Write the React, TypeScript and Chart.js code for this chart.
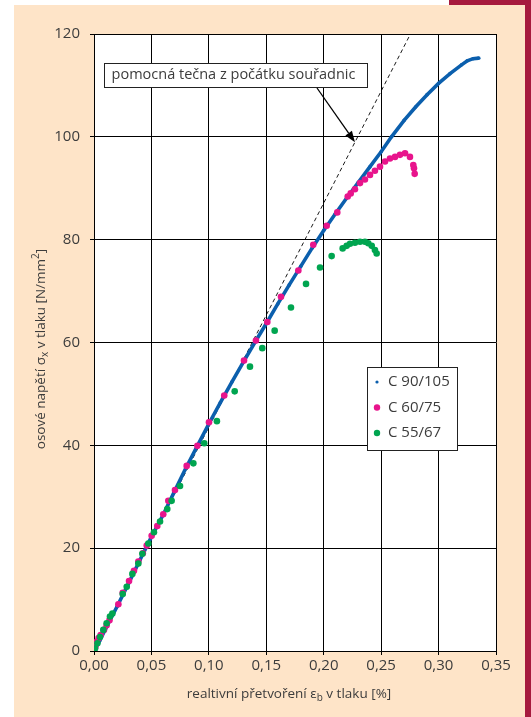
import React, { useEffect, useRef } from "react";
import { Chart, registerables } from "chart.js";

Chart.register(...registerables);

// ---------- data ----------
const seriesNames = ["C 90/105", "C 60/75", "C 55/67"];
const seriesColors = ["#0b5fad", "#e8148c", "#00a550"];

// C 90/105 (x = strain %, y = stress N/mm2)
const c90x = [0, 0.005, 0.01, 0.02, 0.03, 0.04, 0.05, 0.06, 0.07, 0.08, 0.09, 0.10, 0.11, 0.12, 0.13, 0.14, 0.15, 0.16, 0.17, 0.18, 0.19, 0.20, 0.21, 0.22, 0.23, 0.24, 0.25, 0.259, 0.27, 0.28, 0.29, 0.30, 0.31, 0.32, 0.325, 0.33, 0.335];
const c90y = [0, 2.0, 4.3, 8.6, 13.1, 17.7, 22.2, 26.4, 31.0, 35.6, 39.9, 44.2, 48.3, 52.3, 56.2, 60.0, 63.7, 67.5, 71.2, 74.8, 78.4, 81.8, 85.0, 88.1, 91.1, 94.1, 97.1, 100.0, 103.2, 105.8, 108.2, 110.4, 112.3, 114.0, 114.8, 115.2, 115.3];

// C 60/75
const c60x = [0, 0.0012, 0.0023, 0.004, 0.0058, 0.0087, 0.011, 0.0135, 0.0212, 0.025, 0.0305, 0.0348, 0.0386, 0.0425, 0.0459, 0.0502, 0.0551, 0.0603, 0.0647, 0.0705, 0.0807, 0.09, 0.1001, 0.1134, 0.1306, 0.141, 0.1509, 0.1628, 0.1779, 0.1909, 0.2026, 0.2118, 0.2209, 0.2235, 0.2272, 0.2316, 0.2359, 0.2403, 0.2446, 0.249, 0.2534, 0.2577, 0.2621, 0.2664, 0.2708, 0.2751, 0.278, 0.2786, 0.2792];
const c60y = [0, 0.8, 1.8, 2.5, 3.1, 4.1, 5.0, 6.0, 9.1, 11.3, 13.6, 15.6, 17.4, 19.0, 20.5, 22.4, 24.3, 26.6, 29.2, 31.3, 36.0, 39.9, 44.5, 49.7, 56.5, 60.4, 64.0, 68.9, 74.0, 79.0, 82.7, 85.3, 88.4, 89.0, 89.8, 91.0, 91.7, 92.6, 93.4, 94.2, 95.2, 95.8, 96.1, 96.5, 96.8, 96.1, 94.5, 93.9, 92.8];

// C 55/67
const c55x = [0, 0.0009, 0.003, 0.0052, 0.0081, 0.011, 0.0139, 0.016, 0.025, 0.0285, 0.0334, 0.0386, 0.0421, 0.0473, 0.0522, 0.0575, 0.0638, 0.0676, 0.0749, 0.0865, 0.096, 0.107, 0.1225, 0.1358, 0.1465, 0.1573, 0.1715, 0.1846, 0.1968, 0.2069, 0.2165, 0.22, 0.2229, 0.2272, 0.2316, 0.2359, 0.2388, 0.2418, 0.2446, 0.2461];
const c55y = [0, 0.5, 1.5, 2.7, 4.1, 5.4, 6.7, 7.3, 11.1, 12.5, 15.0, 17.0, 18.9, 20.9, 23.1, 25.2, 27.6, 29.2, 32.1, 36.5, 40.4, 44.7, 50.5, 55.3, 58.9, 62.3, 66.8, 71.4, 74.6, 76.8, 78.3, 78.8, 79.2, 79.4, 79.6, 79.6, 79.3, 78.8, 78.0, 77.3];

// auxiliary tangent from origin
const tangentX = [0, 0.2755];
const tangentY = [0, 120];
const tangentArrowX = 0.2272; // point on tangent the arrow points to
const tangentLabel = "pomocná tečna z počátku souřadnic";

const xMin = 0, xMax = 0.35, xStep = 0.05;
const yMin = 0, yMax = 120, yStep = 20;

const xTitleParts = [
  { t: "realtivní přetvoření ε", sub: false },
  { t: "b", sub: true },
  { t: " v tlaku [%]", sub: false },
];
const yTitleParts = [
  { t: "osové napětí ", mode: "n" },
  { t: "σ", mode: "n" },
  { t: "x", mode: "sub" },
  { t: " v tlaku [N/mm", mode: "n" },
  { t: "2", mode: "sup" },
  { t: "]", mode: "n" },
];

const toPts = (xs: number[], ys: number[]) => xs.map((x, i) => ({ x, y: ys[i] }));

const FONT = "'Open Sans', 'Noto Sans', sans-serif";
const TXT = "#3c3c3c";

const overlayPlugin = {
  id: "overlay",
  beforeDraw(chart: any) {
    const { ctx, chartArea: a } = chart;
    ctx.save();
    ctx.fillStyle = "#ffffff";
    ctx.fillRect(a.left, a.top, a.right - a.left, a.bottom - a.top);
    ctx.restore();
  },
  afterDraw(chart: any) {
    const { ctx } = chart;
    const xs = chart.scales.x;
    const ys = chart.scales.y;
    ctx.save();

    // annotation box
    const bx = 104, by = 63, bw = 263, bh = 24;
    ctx.fillStyle = "#ffffff";
    ctx.fillRect(bx, by, bw, bh);
    ctx.strokeStyle = "#222";
    ctx.lineWidth = 1;
    ctx.strokeRect(bx + 0.5, by + 0.5, bw, bh);
    ctx.fillStyle = TXT;
    ctx.font = `14.5px ${FONT}`;
    ctx.textAlign = "center";
    ctx.textBaseline = "middle";
    ctx.fillText(tangentLabel, bx + bw / 2 - 2, by + bh / 2);

    // arrow
    const slope = tangentY[1] / tangentX[1];
    const tx = xs.getPixelForValue(tangentArrowX);
    const ty = ys.getPixelForValue(tangentArrowX * slope);
    const sx = 317, sy = by + bh + 1;
    const ang = Math.atan2(ty - sy, tx - sx);
    const hl = 11, hw = 4;
    const baseX = tx - hl * Math.cos(ang), baseY = ty - hl * Math.sin(ang);
    ctx.strokeStyle = "#000";
    ctx.lineWidth = 1.3;
    ctx.beginPath();
    ctx.moveTo(sx, sy);
    ctx.lineTo(baseX, baseY);
    ctx.stroke();
    ctx.fillStyle = "#000";
    ctx.beginPath();
    ctx.moveTo(tx, ty);
    ctx.lineTo(baseX + hw * Math.sin(ang), baseY - hw * Math.cos(ang));
    ctx.lineTo(baseX - hw * Math.sin(ang), baseY + hw * Math.cos(ang));
    ctx.closePath();
    ctx.fill();

    // legend
    const lx = 367, ly = 367, lw = 90, lh = 83;
    ctx.fillStyle = "#ffffff";
    ctx.fillRect(lx, ly, lw, lh);
    ctx.strokeStyle = "#222";
    ctx.lineWidth = 1;
    ctx.strokeRect(lx + 0.5, ly + 0.5, lw, lh);
    const radii = [1.6, 3.2, 3.2];
    ctx.font = `15px ${FONT}`;
    ctx.textAlign = "left";
    ctx.textBaseline = "middle";
    seriesNames.forEach((n, i) => {
      const cy = ly + 15 + i * 25.5;
      ctx.fillStyle = seriesColors[i];
      ctx.beginPath();
      ctx.arc(lx + 10, cy, radii[i], 0, Math.PI * 2);
      ctx.fill();
      ctx.fillStyle = TXT;
      ctx.fillText(n, lx + 21, cy);
    });

    // x title
    const mainSize = 13.5, subSize = 10;
    ctx.textBaseline = "alphabetic";
    ctx.fillStyle = TXT;
    const widths = xTitleParts.map((p) => {
      ctx.font = `${p.sub ? subSize : mainSize}px ${FONT}`;
      return ctx.measureText(p.t).width;
    });
    const total = widths.reduce((s, w) => s + w, 0);
    let cx = 289 - total / 2;
    const baseY2 = 698;
    xTitleParts.forEach((p, i) => {
      ctx.font = `${p.sub ? subSize : mainSize}px ${FONT}`;
      ctx.fillText(p.t, cx, baseY2 + (p.sub ? 3 : 0));
      cx += widths[i];
    });

    // y title (rotated)
    ctx.save();
    ctx.translate(45, 349);
    ctx.rotate(-Math.PI / 2);
    const yw = yTitleParts.map((p) => {
      ctx.font = `${p.mode === "n" ? mainSize : subSize}px ${FONT}`;
      return ctx.measureText(p.t).width;
    });
    const ytot = yw.reduce((s, w) => s + w, 0);
    let px = -ytot / 2;
    yTitleParts.forEach((p, i) => {
      ctx.font = `${p.mode === "n" ? mainSize : subSize}px ${FONT}`;
      const dy = p.mode === "sub" ? 3 : p.mode === "sup" ? -6 : 0;
      ctx.fillText(p.t, px, dy);
      px += yw[i];
    });
    ctx.restore();

    ctx.restore();
  },
};

export default function App() {
  const ref = useRef<HTMLCanvasElement | null>(null);

  useEffect(() => {
    if (!ref.current) return;
    const chart = new Chart(ref.current, {
      type: "scatter",
      data: {
        datasets: [
          {
            label: seriesNames[2],
            data: toPts(c55x, c55y),
            backgroundColor: seriesColors[2],
            borderColor: seriesColors[2],
            pointRadius: 3.3,
            pointBorderWidth: 0,
            showLine: false,
            order: 0,
          },
          {
            label: seriesNames[1],
            data: toPts(c60x, c60y),
            backgroundColor: seriesColors[1],
            borderColor: seriesColors[1],
            pointRadius: 3.3,
            pointBorderWidth: 0,
            showLine: false,
            order: 1,
          },
          {
            label: seriesNames[0],
            data: toPts(c90x, c90y),
            backgroundColor: seriesColors[0],
            borderColor: seriesColors[0],
            borderWidth: 3.6,
            pointRadius: 1.8,
            pointBorderWidth: 0,
            showLine: true,
            tension: 0,
            order: 2,
          },
          {
            label: "tangent",
            data: toPts(tangentX, tangentY),
            borderColor: "#000",
            borderWidth: 0.9,
            borderDash: [4, 3],
            pointRadius: 0,
            showLine: true,
            order: 3,
          },
        ],
      },
      options: {
        animation: false,
        responsive: false,
        maintainAspectRatio: false,
        layout: { padding: { left: 0, right: 35, top: 34, bottom: 0 } },
        plugins: { legend: { display: false }, tooltip: { enabled: false } },
        scales: {
          x: {
            type: "linear",
            min: xMin,
            max: xMax,
            afterFit: (s: any) => { s.height = 66; },
            ticks: {
              stepSize: xStep,
              color: TXT,
              font: { family: FONT, size: 15 },
              padding: 2,
              maxRotation: 0,
              callback: (v: any) => Number(v).toFixed(2).replace(".", ","),
            },
            grid: { color: "#000", lineWidth: 1, tickLength: 4, tickColor: "#000" },
            border: { color: "#000", width: 1 },
          },
          y: {
            type: "linear",
            min: yMin,
            max: yMax,
            afterFit: (s: any) => { s.width = 94; },
            ticks: {
              stepSize: yStep,
              color: TXT,
              font: { family: FONT, size: 15 },
              padding: 10,
            },
            grid: { color: "#000", lineWidth: 1, tickLength: 4, tickColor: "#000" },
            border: { color: "#000", width: 1 },
          },
        },
      },
      plugins: [overlayPlugin],
    });
    return () => chart.destroy();
  }, []);

  return (
    <div style={{ position: "absolute", left: 0, top: 0, width: 531, height: 717, background: "#ffffff", overflow: "hidden" }}>
      <div style={{ position: "absolute", left: 14, top: 5, width: 511, height: 712, background: "#fee4c8" }} />
      <div style={{ position: "absolute", left: 449, top: 0, width: 82, height: 5, background: "#a61a3e" }} />
      <div style={{ position: "absolute", left: 525, top: 0, width: 6, height: 717, background: "#a61a3e" }} />
      <canvas ref={ref} width={531} height={717} style={{ position: "absolute", left: 0, top: 0, width: 531, height: 717 }} />
    </div>
  );
}
